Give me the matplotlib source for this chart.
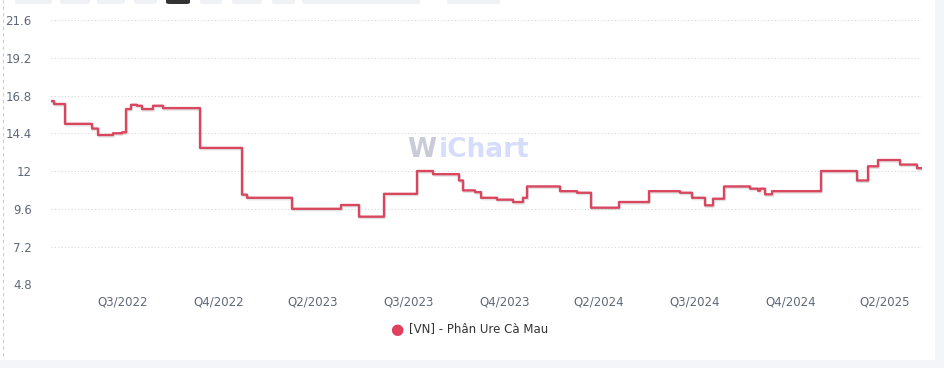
"""WiChart-style step line: [VN] - Phân Ure Cà Mau price."""

import numpy as np
import matplotlib
matplotlib.use("Agg")
import matplotlib.pyplot as plt
import matplotlib.patheffects as pe
from matplotlib.patches import FancyBboxPatch, Rectangle
from matplotlib.lines import Line2D

# price levels and how many sessions each level lasted
levels = [16.45, 16.26, 15.0, 14.7, 14.29, 14.4, 14.46, 15.94, 16.21, 16.15,
          15.94, 16.15, 16.0, 13.47, 10.5, 10.3, 9.6, 9.84, 9.1, 10.55,
          12.0, 11.8, 11.4, 10.77, 10.66, 10.3, 10.18, 10.03, 10.3, 11.02,
          10.72, 10.62, 9.67, 10.03, 10.72, 10.62, 10.3, 9.82, 10.24, 11.02,
          10.88, 10.75, 10.88, 10.52, 10.72, 12.0, 11.4, 12.3, 12.7, 12.41,
          12.18]
sessions = [3, 11, 27, 6, 15, 9, 4, 5, 6, 5,
            11, 10, 37, 42, 5, 45, 49, 18, 25, 33,
            16, 26, 4, 12, 6, 16, 16, 10, 4, 33,
            17, 14, 28, 30, 31, 12, 13, 8, 11, 26,
            8, 2, 5, 7, 49, 36, 11, 10, 22, 17,
            5]

tick_labels = ["Q3/2022", "Q4/2022", "Q2/2023", "Q3/2023", "Q4/2023",
               "Q2/2024", "Q3/2024", "Q4/2024", "Q2/2025"]
tick_pos = [72, 168, 262, 358, 454, 548, 644, 740, 834]
y_ticks = [4.8, 7.2, 9.6, 12, 14.4, 16.8, 19.2, 21.6]
series_name = "[VN] - Phân Ure Cà Mau"

LINE = "#d9475f"
TICK = "#5f6878"

values = np.append(np.repeat(levels, sessions), levels[-1])
idx = np.arange(len(values))

W, H = 944, 368
fig = plt.figure(figsize=(W / 100, H / 100), dpi=100)
fig.patch.set_facecolor("white")

# page chrome: right/bottom panel strips, dashed left border, top tab stubs
fig.patches.append(Rectangle((935 / W, 0), 9 / W, 1, transform=fig.transFigure,
                             facecolor="#f4f5f9", edgecolor="none"))
fig.patches.append(Rectangle((0, 0), 1, 8 / H, transform=fig.transFigure,
                             facecolor="#f4f5f9", edgecolor="none"))
fig.add_artist(Line2D([3 / W, 3 / W], [12 / H, 1], transform=fig.transFigure,
                      color="#c9ccd3", lw=0.8, ls=(0, (3, 3))))
for x0, x1, c in [(15, 52, "#f0f1f4"), (60, 90, "#f0f1f4"), (97, 125, "#f0f1f4"),
                  (134, 157, "#f0f1f4"), (166, 190, "#333333"), (200, 222, "#f0f1f4"),
                  (232, 262, "#f0f1f4"), (272, 295, "#f0f1f4"), (302, 420, "#f0f1f4"),
                  (447, 500, "#f0f1f4")]:
    fig.patches.append(FancyBboxPatch((x0 / W, (H - 4) / H), (x1 - x0) / W, 6 / H,
                                      boxstyle="round,pad=0,rounding_size=0.004",
                                      transform=fig.transFigure, facecolor=c,
                                      edgecolor="none"))

ax = fig.add_axes([51 / W, (H - 284.3) / H, 871 / W, (284.3 - 20) / H])
ax.plot(idx, values, drawstyle="steps-post", color=LINE, lw=1.7,
        path_effects=[pe.SimpleLineShadow(offset=(0.6, -1.0), shadow_color="#888888", alpha=0.25),
                      pe.Normal()], zorder=3)

ax.set_xlim(0, 871)
ax.set_ylim(4.8, 21.6)
ax.set_yticks(y_ticks)
ax.set_yticklabels([f"{v:g}" for v in y_ticks])
ax.set_xticks(tick_pos)
ax.set_xticklabels(tick_labels)
ax.tick_params(axis="both", length=0, labelsize=8.5, colors=TICK)
ax.tick_params(axis="y", pad=14)
ax.tick_params(axis="x", pad=8)
ax.grid(axis="y", color="#d4d6dc", lw=0.8, ls=(0, (1, 2)))
for s in ax.spines.values():
    s.set_visible(False)

# watermark
fig.text(407 / W, (H - 150) / H, "W", fontsize=19, fontweight="bold",
         color="#c9cbd9", va="center", ha="left")
fig.text(439 / W, (H - 150) / H, "iChart", fontsize=19, fontweight="bold",
         color="#d6ddfa", va="center", ha="left")

# legend
fig.text(397 / W, (H - 329) / H, "●", fontsize=11, color="#e0405e",
         va="center", ha="center")
fig.text(409 / W, (H - 328.5) / H, series_name, fontsize=8.5, color="#333333",
         va="center", ha="left")

fig.savefig("out.png", dpi=100)
plt.close(fig)
